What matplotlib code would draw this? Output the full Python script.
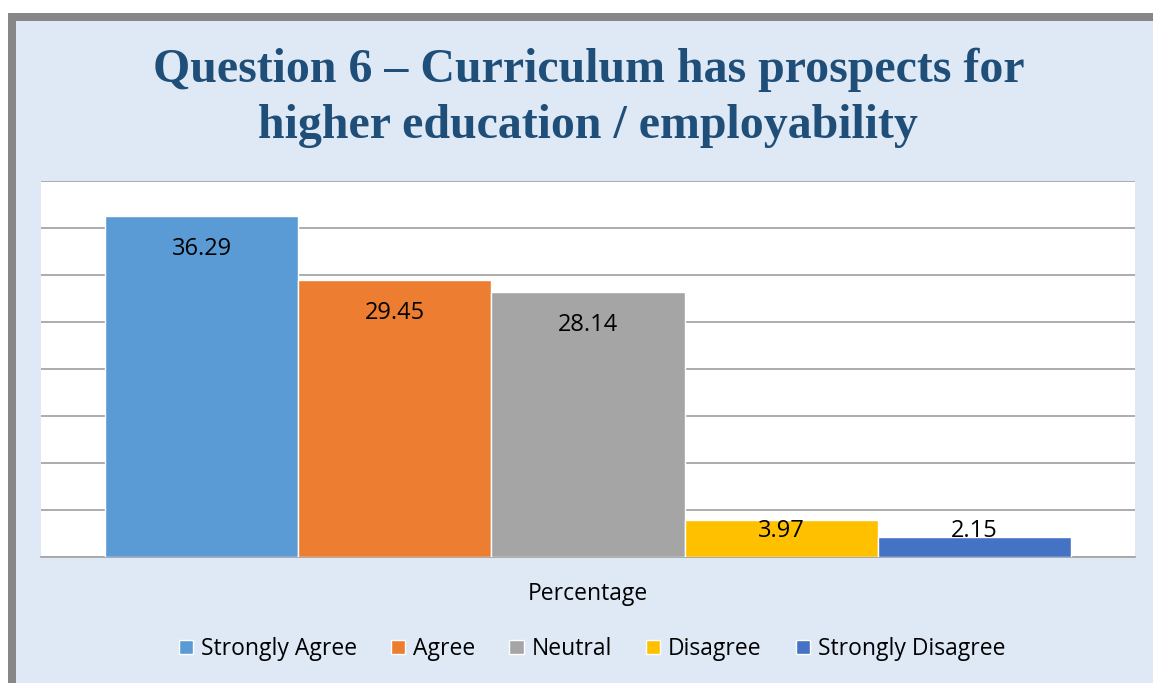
import numpy as np
import matplotlib.pyplot as plt
from matplotlib.patches import Rectangle, Patch

categories = ['Strongly Agree', 'Agree', 'Neutral', 'Disagree', 'Strongly Disagree']
values = [36.29, 29.45, 28.14, 3.97, 2.15]
colors = ['#5B9BD5', '#ED7D31', '#A5A5A5', '#FFC000', '#4472C4']

W, H = 1153, 683
fig = plt.figure(figsize=(W/100, H/100), dpi=100, facecolor='white')

# frame: grey border on top/left, light blue fill
fig.patches.append(Rectangle((8/W, 0), 1, 1-13/H, transform=fig.transFigure,
                             facecolor='#878787', edgecolor='none', zorder=-10))
fig.patches.append(Rectangle((16/W, 0), 1, 1-21/H, transform=fig.transFigure,
                             facecolor='#DEE9F5', edgecolor='none', zorder=-9))

title_kw = dict(family='Liberation Serif', weight='bold', fontsize=34.5,
                color='#1F4E79', ha='center', va='center')
fig.text(589/W, 1-70/H, 'Question 6 \u2013 Curriculum has prospects for', **title_kw)
fig.text(588/W, 1-126/H, 'higher education / employability', **title_kw)

ax = fig.add_axes([41/W, (H-557)/H, (1135-41)/W, (557-181)/H])
ax.set_facecolor('white')
x = np.arange(len(values))
ax.bar(x, values, width=1.0, color=colors, edgecolor='white', linewidth=1, zorder=3)
ax.set_ylim(0, 40)
ax.set_xlim(-0.5-0.331, 4.5+0.331)
ax.set_yticks(np.arange(0, 41, 5))
ax.yaxis.grid(True, color='#A6A6A6', linewidth=1.3, zorder=0)
ax.tick_params(left=False, bottom=False, labelleft=False, labelbottom=False)
for s in ['left', 'right', 'top']:
    ax.spines[s].set_visible(False)
ax.spines['bottom'].set_color('#A6A6A6')
ax.spines['bottom'].set_linewidth(1.3)

for xi, v in zip(x, values):
    ax.text(xi, max(v - 3.5, 2.75), f'{v:.2f}', ha='center', va='center',
            fontsize=17, family='Open Sans', color='black', zorder=4)

fig.text(588/W, 1-594/H, 'Percentage', ha='center', va='center',
         fontsize=16.5, family='Open Sans', color='black')

handles = [Patch(facecolor=c, edgecolor='white', label=l) for c, l in zip(colors, categories)]
fig.legend(handles=handles, loc='center', bbox_to_anchor=(592/W, 1-649/H), ncol=5,
           frameon=False, handlelength=0.62, handleheight=0.62, handletextpad=0.35,
           columnspacing=1.48, prop={'family': 'Open Sans', 'size': 16.5})

fig.savefig('out.png', dpi=100, facecolor=fig.get_facecolor())
